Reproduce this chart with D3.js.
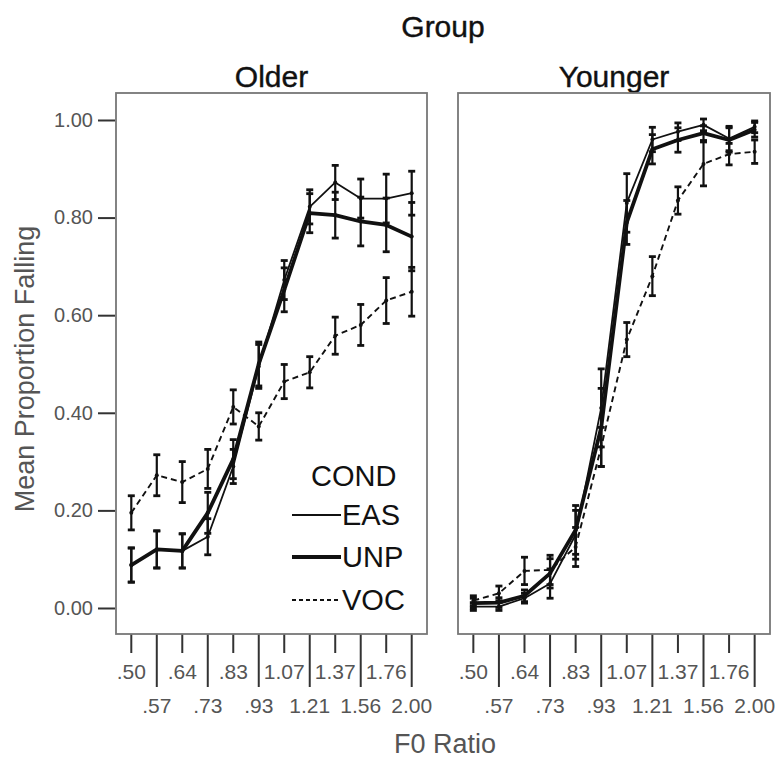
<!DOCTYPE html>
<html>
<head>
<meta charset="utf-8">
<script src="https://cdn.jsdelivr.net/npm/d3@7"></script>
<style>
  body { margin: 0; background: #fff; }
  text { font-family: "Liberation Sans", Arial, sans-serif; }
</style>
</head>
<body>
<div id="chart"></div>
<script>
var width = 778;
var height = 760;

// F0 ratio categories
var ratios = [".50", ".57", ".64", ".73", ".83", ".93", "1.07", "1.21", "1.37", "1.56", "1.76", "2.00"];
var yTicks = [0, 0.2, 0.4, 0.6, 0.8, 1.0];
var groups = ["Older", "Younger"];
var conds = ["EAS", "UNP", "VOC"];

// mean proportion falling, and error bar half-widths
var olderEAS = [0.088, 0.12, 0.117, 0.146, 0.29, 0.495, 0.672, 0.822, 0.872, 0.839, 0.839, 0.85];
var olderEASerr = [0.035, 0.038, 0.035, 0.037, 0.035, 0.045, 0.04, 0.035, 0.035, 0.04, 0.05, 0.045];
var olderUNP = [0.088, 0.12, 0.117, 0.195, 0.305, 0.50, 0.652, 0.809, 0.805, 0.792, 0.785, 0.761];
var olderUNPerr = [0.035, 0.038, 0.035, 0.042, 0.04, 0.045, 0.045, 0.04, 0.047, 0.05, 0.055, 0.07];
var olderVOC = [0.195, 0.272, 0.258, 0.285, 0.412, 0.372, 0.464, 0.483, 0.558, 0.58, 0.63, 0.648];
var olderVOCerr = [0.035, 0.042, 0.042, 0.04, 0.035, 0.028, 0.035, 0.032, 0.038, 0.042, 0.047, 0.05];

var youngerEAS = [0.003, 0.003, 0.02, 0.05, 0.15, 0.41, 0.83, 0.96, 0.976, 0.99, 0.962, 0.986];
var youngerEASerr = [0.008, 0.008, 0.01, 0.03, 0.05, 0.08, 0.06, 0.025, 0.018, 0.012, 0.025, 0.012];
var youngerUNP = [0.01, 0.011, 0.025, 0.071, 0.16, 0.37, 0.79, 0.94, 0.959, 0.973, 0.959, 0.98];
var youngerUNPerr = [0.01, 0.01, 0.012, 0.03, 0.05, 0.08, 0.045, 0.03, 0.025, 0.015, 0.025, 0.015];
var youngerVOC = [0.015, 0.03, 0.076, 0.078, 0.125, 0.33, 0.55, 0.68, 0.835, 0.91, 0.93, 0.935];
var youngerVOCerr = [0.01, 0.015, 0.028, 0.03, 0.04, 0.04, 0.035, 0.04, 0.028, 0.045, 0.022, 0.024];

var panelData = [
  { name: "Older", left: 116, right: 427, series: [
      { cond: "EAS", values: olderEAS, err: olderEASerr },
      { cond: "UNP", values: olderUNP, err: olderUNPerr },
      { cond: "VOC", values: olderVOC, err: olderVOCerr } ] },
  { name: "Younger", left: 458, right: 770, series: [
      { cond: "EAS", values: youngerEAS, err: youngerEASerr },
      { cond: "UNP", values: youngerUNP, err: youngerUNPerr },
      { cond: "VOC", values: youngerVOC, err: youngerVOCerr } ] }
];

var lineStyle = {
  EAS: { w: 1.8, dash: null },
  UNP: { w: 3.8, dash: null },
  VOC: { w: 1.9, dash: "6,4" }
};

var panelTop = 93, panelBottom = 634;

var y = d3.scaleLinear()
  .domain([-0.0533, 1.0553])
  .range([panelBottom, panelTop]);

var svg = d3.select("#chart")
  .append("svg")
  .attr("width", width)
  .attr("height", height);

// titles
svg.append("text")
  .attr("x", 443).attr("y", 37)
  .attr("text-anchor", "middle")
  .attr("font-size", "30px")
  .attr("fill", "#111")
  .attr("stroke", "#111")
  .attr("stroke-width", 0.4)
  .text("Group");

svg.append("text")
  .attr("transform", "translate(34,369) rotate(-90)")
  .attr("text-anchor", "middle")
  .attr("font-size", "27px")
  .attr("fill", "#555")
  .text("Mean Proportion Falling");

svg.append("text")
  .attr("x", 445).attr("y", 753)
  .attr("text-anchor", "middle")
  .attr("font-size", "27px")
  .attr("fill", "#555")
  .text("F0 Ratio");

// y axis on the left panel
var yAxis = d3.axisLeft(y)
  .tickValues(yTicks)
  .tickSize(17)
  .tickPadding(5)
  .tickFormat(d3.format(".2f"));

var gy = svg.append("g")
  .attr("transform", "translate(115,0)")
  .call(yAxis);
gy.select(".domain").remove();
gy.selectAll(".tick line").attr("stroke", "#333").attr("stroke-width", 2);
gy.selectAll(".tick text")
  .attr("font-size", "20px")
  .attr("fill", "#555")
  .style("font-family", "'Liberation Sans', Arial, sans-serif");

panelData.forEach(function(p){
  var x = d3.scalePoint()
    .domain(ratios)
    .range([p.left, p.right])
    .padding(0.6);

  var g = svg.append("g");

  g.append("text")
    .attr("x", (p.left + p.right) / 2).attr("y", 87)
    .attr("text-anchor", "middle")
    .attr("font-size", "30px")
    .attr("fill", "#111")
    .attr("stroke", "#111")
    .attr("stroke-width", 0.4)
    .text(p.name);

  // x ticks, alternating short/long with two label rows
  g.selectAll("line.xtick")
    .data(ratios)
    .enter()
    .append("line")
    .attr("class", "xtick")
    .attr("x1", function(d){ return x(d); })
    .attr("x2", function(d){ return x(d); })
    .attr("y1", panelBottom)
    .attr("y2", function(d, i){ return i % 2 == 0 ? 653 : 687; })
    .attr("stroke", "#333")
    .attr("stroke-width", 2);

  g.selectAll("text.xlab")
    .data(ratios)
    .enter()
    .append("text")
    .attr("class", "xlab")
    .attr("x", function(d){ return x(d); })
    .attr("y", function(d, i){ return i % 2 == 0 ? 679 : 713; })
    .attr("text-anchor", "middle")
    .attr("font-size", "21px")
    .attr("fill", "#555")
    .text(function(d){ return d; });

  // lines
  p.series.forEach(function(s){
    var line = d3.line()
      .x(function(d, i){ return x(ratios[i]); })
      .y(function(d){ return y(d); });

    g.append("path")
      .datum(s.values)
      .attr("d", line)
      .attr("fill", "none")
      .attr("stroke", "#111")
      .attr("stroke-width", lineStyle[s.cond].w)
      .attr("stroke-dasharray", lineStyle[s.cond].dash)
      .attr("stroke-linejoin", "round");
  });

  // error bars
  p.series.forEach(function(s){
    var eb = g.selectAll("g.eb-" + s.cond)
      .data(s.values)
      .enter()
      .append("g")
      .attr("class", "eb-" + s.cond);

    eb.append("line")
      .attr("x1", function(d, i){ return x(ratios[i]); })
      .attr("x2", function(d, i){ return x(ratios[i]); })
      .attr("y1", function(d, i){ return y(d + s.err[i]); })
      .attr("y2", function(d, i){ return y(d - s.err[i]); })
      .attr("stroke", "#111")
      .attr("stroke-width", 2.2);

    [1, -1].forEach(function(sign){
      eb.append("line")
        .attr("x1", function(d, i){ return x(ratios[i]) - 3.5; })
        .attr("x2", function(d, i){ return x(ratios[i]) + 3.5; })
        .attr("y1", function(d, i){ return y(d + sign * s.err[i]); })
        .attr("y2", function(d, i){ return y(d + sign * s.err[i]); })
        .attr("stroke", "#111")
        .attr("stroke-width", 2.8);
    });

    eb.append("circle")
      .attr("cx", function(d, i){ return x(ratios[i]); })
      .attr("cy", function(d){ return y(d); })
      .attr("r", 2)
      .attr("fill", "#111");
  });

  // panel border
  g.append("rect")
    .attr("x", p.left).attr("y", panelTop)
    .attr("width", p.right - p.left)
    .attr("height", panelBottom - panelTop)
    .attr("fill", "none")
    .attr("stroke", "#777")
    .attr("stroke-width", 1.8);
});

// legend inside the Older panel
var legend = svg.append("g");
legend.append("text")
  .attr("x", 311).attr("y", 486)
  .attr("font-size", "29px")
  .attr("fill", "#111")
  .text("COND");

var legendY = [515, 557, 600];
legend.selectAll("g.item")
  .data(conds)
  .enter()
  .append("g")
  .attr("class", "item")
  .each(function(d, i){
    var it = d3.select(this);
    it.append("line")
      .attr("x1", 292).attr("x2", 341)
      .attr("y1", legendY[i]).attr("y2", legendY[i])
      .attr("stroke", "#111")
      .attr("stroke-width", lineStyle[d].w)
      .attr("stroke-dasharray", d == "VOC" ? "4,3" : null);
    it.append("text")
      .attr("x", 342).attr("y", legendY[i] + 10)
      .attr("font-size", "29px")
      .attr("fill", "#111")
      .text(d);
  });
</script>
</body>
</html>
